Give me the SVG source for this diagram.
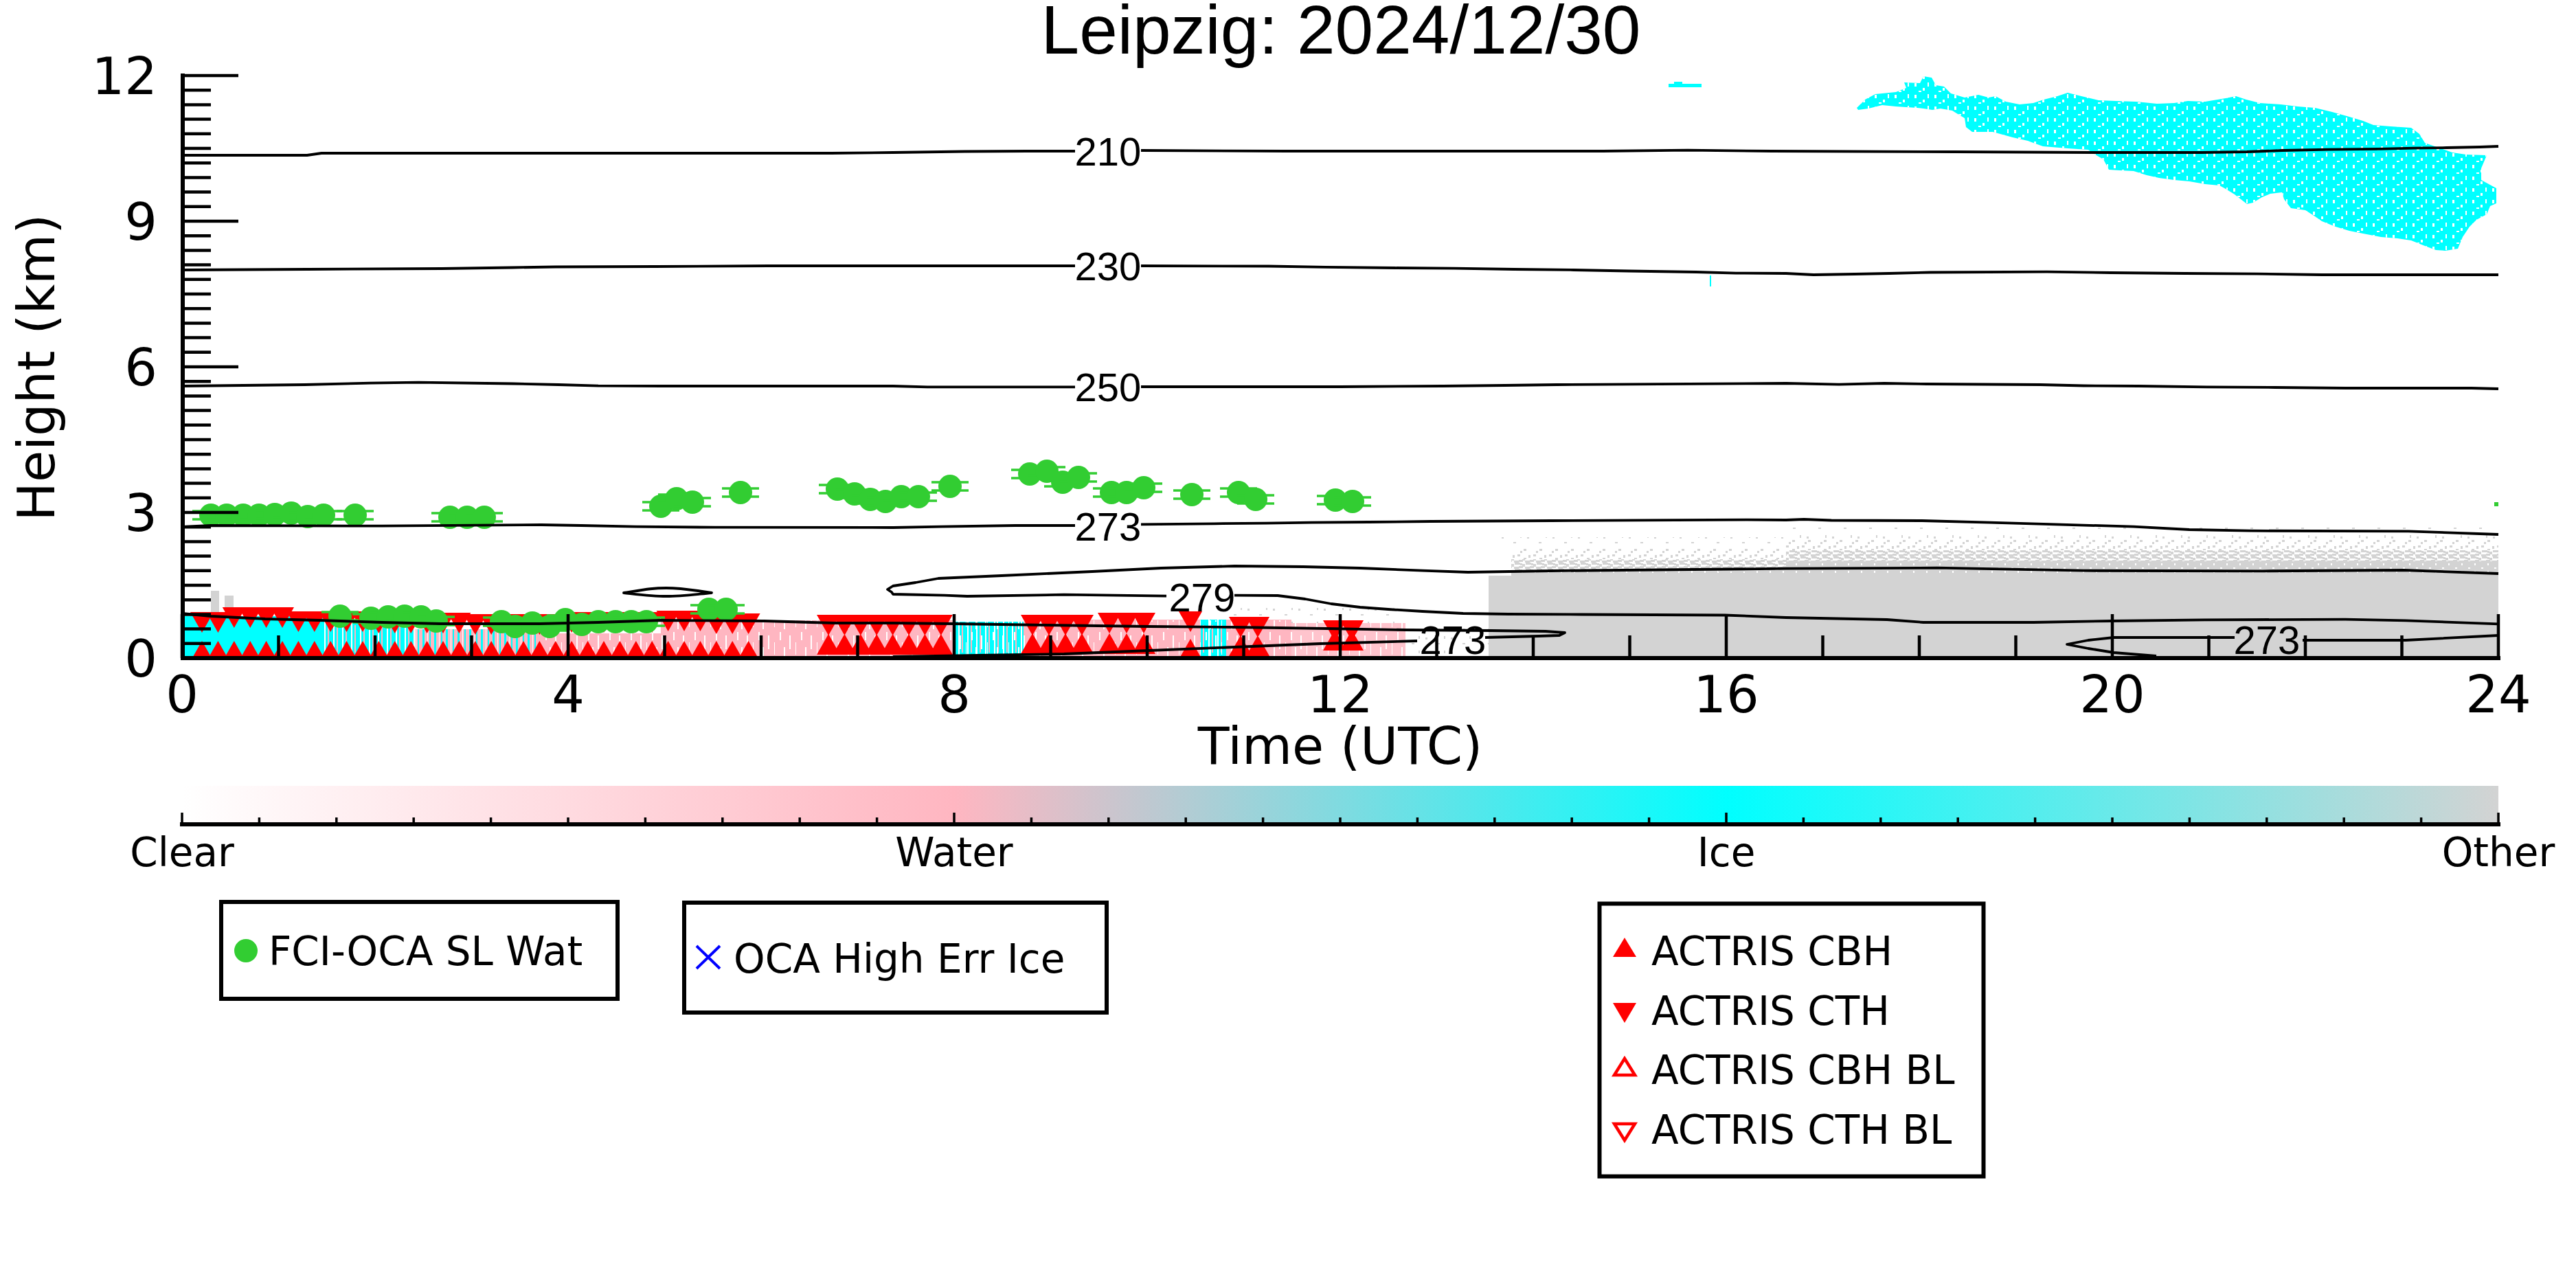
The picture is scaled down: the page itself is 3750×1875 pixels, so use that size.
<svg xmlns="http://www.w3.org/2000/svg" width="3750" height="1875" viewBox="0 0 3750 1875">
<style>
.t{font-family:"DejaVu Sans",sans-serif;fill:#000}
.tl{font-family:"Liberation Sans",Arial,sans-serif;fill:#000}
.ax{stroke:#000;stroke-width:6;fill:none}
.tk{stroke:#000;stroke-width:4.5;fill:none}
.ct{stroke:#000;stroke-width:3.8;fill:none;stroke-linejoin:round}
.lg{fill:#fff;stroke:#000;stroke-width:6}
</style>
<defs>
<clipPath id="pc"><rect x="265" y="100" width="3373" height="856"/></clipPath>
<path id="dn" d="M-17,-15H17L0,15Z" fill="#f00"/>
<path id="up" d="M0,-15L17,15H-17Z" fill="#f00"/>
<g id="gd"><path d="M-27,-6H27M-27,6H27" stroke="#32cd32" stroke-width="3.5"/><circle r="17" fill="#32cd32"/></g>
<linearGradient id="cb" x1="265" x2="3637" y1="0" y2="0" gradientUnits="userSpaceOnUse">
<stop offset="0" stop-color="#fff"/><stop offset="0.3333" stop-color="#ffb6c1"/><stop offset="0.6667" stop-color="#0ff"/><stop offset="1" stop-color="#d3d3d3"/>
</linearGradient>
<pattern id="ih" width="29" height="17" patternUnits="userSpaceOnUse"><g fill="#fff"><rect x="3" y="2" width="3" height="5"/><rect x="15" y="9" width="3" height="4"/><rect x="22" y="1" width="2" height="6"/><rect x="9" y="13" width="4" height="2"/></g></pattern>
<pattern id="sd" width="16" height="9" patternUnits="userSpaceOnUse"><g fill="#d3d3d3"><rect x="0" y="0" width="5" height="3"/><rect x="8" y="2" width="4" height="4"/><rect x="3" y="5" width="6" height="3"/><rect x="12" y="6" width="4" height="3"/><rect x="13" y="0" width="3" height="3"/><rect x="5" y="1" width="3" height="3"/><rect x="0" y="6" width="3" height="3"/></g></pattern>
<pattern id="sm" width="23" height="13" patternUnits="userSpaceOnUse"><g fill="#d3d3d3"><rect x="1" y="1" width="4" height="3"/><rect x="10" y="6" width="4" height="3"/><rect x="17" y="2" width="3" height="4"/><rect x="5" y="9" width="3" height="3"/></g></pattern>
<pattern id="ss" width="37" height="21" patternUnits="userSpaceOnUse"><g fill="#d3d3d3"><rect x="3" y="4" width="3" height="3"/><rect x="20" y="12" width="4" height="2"/><rect x="30" y="2" width="2" height="4"/></g></pattern>
<pattern id="gh" width="19" height="11" patternUnits="userSpaceOnUse"><g fill="#fff"><rect x="2" y="1" width="3" height="2"/><rect x="11" y="6" width="2" height="3"/></g></pattern>
<pattern id="pw" width="31" height="40" patternUnits="userSpaceOnUse"><g fill="#fff"><rect x="2" y="5" width="2" height="20"/><rect x="11" y="15" width="1" height="18"/><rect x="19" y="0" width="2" height="12"/><rect x="25" y="22" width="2" height="14"/></g></pattern>
<pattern id="cs" width="13" height="60" patternUnits="userSpaceOnUse"><rect width="13" height="60" fill="#0ff"/><rect x="4" y="0" width="2" height="60" fill="#fff"/><rect x="9" y="10" width="2" height="40" fill="#ffb6c1"/></pattern>
<pattern id="pcy" width="17" height="60" patternUnits="userSpaceOnUse"><rect width="17" height="60" fill="#ffb6c1"/><rect x="3" y="0" width="3" height="60" fill="#0ff"/><rect x="10" y="5" width="1" height="45" fill="#fff"/><rect x="13" y="0" width="2" height="60" fill="#0ff"/></pattern>
</defs>

<rect width="3750" height="1875" fill="#fff"/>

<g id="data" clip-path="url(#pc)">
 <rect x="265" y="897" width="205" height="60" fill="#0ff"/>
 <rect x="470" y="903" width="134" height="54" fill="url(#cs)"/>
 <rect x="604" y="916" width="176" height="41" fill="url(#pcy)"/>
 <rect x="780" y="922" width="182" height="35" fill="#ffb6c1"/>
 <rect x="962" y="903" width="428" height="54" fill="#ffb6c1"/>
 <rect x="1390" y="905" width="100" height="52" fill="url(#cs)"/>
 <rect x="1490" y="902" width="390" height="55" fill="#ffb6c1"/>
 <rect x="1748" y="902" width="37" height="55" fill="url(#cs)"/>
 <rect x="1880" y="907" width="166" height="50" fill="#ffc4cd"/>
 <rect x="780" y="903" width="1266" height="54" fill="url(#pw)"/>
 <rect x="2046" y="915" width="121" height="42" fill="url(#ss)"/>
 <rect x="1789" y="885" width="257" height="22" fill="url(#ss)"/>
 <rect x="307" y="860" width="12" height="37" fill="#d3d3d3"/>
 <rect x="327" y="867" width="13" height="30" fill="#d3d3d3"/>
 <path d="M2167,838H2200V832L2600,830V817H3637V957H2167Z" fill="#d3d3d3"/>
 <rect x="2200" y="818" width="1437" height="18" fill="url(#gh)"/>
 <rect x="2200" y="814" width="400" height="18" fill="url(#sd)"/>
 <rect x="2200" y="799" width="400" height="15" fill="url(#sm)"/>
 <rect x="2180" y="782" width="420" height="17" fill="url(#ss)"/>
 <rect x="2600" y="801" width="1037" height="16" fill="url(#sd)"/>
 <rect x="2600" y="786" width="1037" height="15" fill="url(#sm)"/>
 <rect x="2600" y="768" width="1037" height="18" fill="url(#ss)"/>
 <g id="icecloud">
 <path d="M2703,157 L2715,145 L2730,137 L2760,134 L2775,128 L2772,120 L2795,121 L2800,111 L2812,113 L2818,124 L2830,126 L2840,136 L2860,142 L2880,138 L2895,142 L2905,140 L2920,148 L2940,152 L2960,150 L2975,145 L2995,140 L3010,135 L3030,140 L3055,146 L3080,147 L3110,148 L3140,151 L3165,150 L3185,147 L3210,148 L3240,143 L3255,140 L3270,145 L3290,150 L3320,152 L3345,155 L3370,157 L3395,163 L3420,170 L3440,176 L3455,182 L3480,184 L3510,186 L3522,195 L3530,208 L3550,215 L3570,222 L3590,225 L3620,226 L3612,245 L3612,262 L3634,274 L3634,296 L3625,300 L3620,312 L3605,320 L3595,330 L3585,345 L3578,362 L3560,365 L3546,364 L3530,358 L3510,350 L3490,347 L3466,345 L3440,340 L3420,336 L3400,330 L3380,322 L3370,315 L3356,306 L3335,303 L3325,290 L3322,280 L3305,282 L3293,287 L3280,295 L3271,297 L3262,290 L3253,283 L3240,275 L3231,270 L3210,268 L3187,264 L3165,262 L3143,259 L3125,255 L3106,249 L3085,248 L3070,247 L3062,232 L3050,225 L3040,218 L3010,216 L2974,213 L2960,208 L2952,205 L2930,200 L2901,192 L2871,192 L2862,185 L2860,172 L2850,166 L2842,161 L2825,158 L2813,160 L2800,158 L2791,157 L2760,155 L2740,153 L2720,158 L2705,160Z" fill="#0ff"/>
 <path d="M2703,157 L2715,145 L2730,137 L2760,134 L2775,128 L2772,120 L2795,121 L2800,111 L2812,113 L2818,124 L2830,126 L2840,136 L2860,142 L2880,138 L2895,142 L2905,140 L2920,148 L2940,152 L2960,150 L2975,145 L2995,140 L3010,135 L3030,140 L3055,146 L3080,147 L3110,148 L3140,151 L3165,150 L3185,147 L3210,148 L3240,143 L3255,140 L3270,145 L3290,150 L3320,152 L3345,155 L3370,157 L3395,163 L3420,170 L3440,176 L3455,182 L3480,184 L3510,186 L3522,195 L3530,208 L3550,215 L3570,222 L3590,225 L3620,226 L3612,245 L3612,262 L3634,274 L3634,296 L3625,300 L3620,312 L3605,320 L3595,330 L3585,345 L3578,362 L3560,365 L3546,364 L3530,358 L3510,350 L3490,347 L3466,345 L3440,340 L3420,336 L3400,330 L3380,322 L3370,315 L3356,306 L3335,303 L3325,290 L3322,280 L3305,282 L3293,287 L3280,295 L3271,297 L3262,290 L3253,283 L3240,275 L3231,270 L3210,268 L3187,264 L3165,262 L3143,259 L3125,255 L3106,249 L3085,248 L3070,247 L3062,232 L3050,225 L3040,218 L3010,216 L2974,213 L2960,208 L2952,205 L2930,200 L2901,192 L2871,192 L2862,185 L2860,172 L2850,166 L2842,161 L2825,158 L2813,160 L2800,158 L2791,157 L2760,155 L2740,153 L2720,158 L2705,160Z" fill="url(#ih)"/>
 <rect x="2429" y="122" width="48" height="5" fill="#0ff"/>
 <rect x="2437" y="119" width="12" height="3" fill="#0ff"/>
 <rect x="2489" y="401" width="2" height="16" fill="#0ff"/>
 </g>
 <rect x="3631" y="731" width="6" height="6" fill="#32cd32"/>
</g>

<g id="actris" clip-path="url(#pc)">
 <g id="cth">
 <use href="#dn" x="294" y="906"/><use href="#dn" x="317.4" y="906"/><use href="#dn" x="340.8" y="899"/><use href="#dn" x="364.2" y="899"/><use href="#dn" x="387.6" y="899"/><use href="#dn" x="411" y="899"/><use href="#dn" x="434.4" y="905"/><use href="#dn" x="457.8" y="905"/><use href="#dn" x="481.2" y="905"/><use href="#dn" x="504.6" y="905"/><use href="#dn" x="528" y="905"/><use href="#dn" x="551.4" y="907"/><use href="#dn" x="574.8" y="907"/><use href="#dn" x="598.2" y="907"/><use href="#dn" x="621.6" y="907"/><use href="#dn" x="645" y="907"/><use href="#dn" x="668.4" y="907"/><use href="#dn" x="691.8" y="909"/><use href="#dn" x="715.2" y="909"/><use href="#dn" x="738.6" y="909"/><use href="#dn" x="762" y="909"/><use href="#dn" x="785.4" y="909"/><use href="#dn" x="808.8" y="909"/><use href="#dn" x="832.2" y="906"/><use href="#dn" x="855.6" y="906"/><use href="#dn" x="879" y="906"/><use href="#dn" x="902.4" y="906"/><use href="#dn" x="925.8" y="906"/><use href="#dn" x="949.2" y="906"/><use href="#dn" x="972.6" y="904"/><use href="#dn" x="996" y="904"/><use href="#dn" x="1019.4" y="904"/><use href="#dn" x="1042.8" y="908"/><use href="#dn" x="1066.2" y="908"/><use href="#dn" x="1089.6" y="908"/>
 <use href="#dn" x="1206" y="910"/><use href="#dn" x="1229.4" y="910"/><use href="#dn" x="1252.8" y="910"/><use href="#dn" x="1276.2" y="910"/><use href="#dn" x="1299.6" y="910"/><use href="#dn" x="1323" y="910"/><use href="#dn" x="1346.4" y="910"/><use href="#dn" x="1369.8" y="910"/>
 <use href="#dn" x="1503" y="910"/><use href="#dn" x="1527" y="910"/><use href="#dn" x="1551" y="910"/><use href="#dn" x="1575" y="910"/>
 <use href="#dn" x="1615" y="907"/><use href="#dn" x="1640" y="907"/><use href="#dn" x="1665" y="907"/>
 <use href="#dn" x="1733" y="905"/>
 <use href="#dn" x="1806" y="913"/><use href="#dn" x="1831" y="913"/>
 <use href="#dn" x="1943" y="918"/><use href="#dn" x="1968" y="918"/>
 </g>
 <g id="cbh">
 <use href="#up" x="294" y="948"/><use href="#up" x="317.4" y="948"/><use href="#up" x="340.8" y="948"/><use href="#up" x="364.2" y="948"/><use href="#up" x="387.6" y="948"/><use href="#up" x="411" y="948"/><use href="#up" x="434.4" y="948"/><use href="#up" x="457.8" y="948"/><use href="#up" x="481.2" y="948"/><use href="#up" x="504.6" y="948"/><use href="#up" x="528" y="948"/><use href="#up" x="551.4" y="948"/><use href="#up" x="574.8" y="948"/><use href="#up" x="598.2" y="948"/><use href="#up" x="621.6" y="948"/><use href="#up" x="645" y="948"/><use href="#up" x="668.4" y="948"/><use href="#up" x="691.8" y="948"/><use href="#up" x="715.2" y="948"/><use href="#up" x="738.6" y="948"/><use href="#up" x="762" y="948"/><use href="#up" x="785.4" y="948"/><use href="#up" x="808.8" y="948"/><use href="#up" x="832.2" y="948"/><use href="#up" x="855.6" y="948"/><use href="#up" x="879" y="948"/><use href="#up" x="902.4" y="948"/><use href="#up" x="925.8" y="948"/><use href="#up" x="949.2" y="948"/><use href="#up" x="972.6" y="948"/><use href="#up" x="996" y="948"/><use href="#up" x="1019.4" y="948"/><use href="#up" x="1042.8" y="948"/><use href="#up" x="1066.2" y="948"/><use href="#up" x="1089.6" y="948"/>
 <use href="#up" x="1206" y="938"/><use href="#up" x="1229.4" y="938"/><use href="#up" x="1252.8" y="938"/><use href="#up" x="1276.2" y="938"/><use href="#up" x="1299.6" y="938"/><use href="#up" x="1323" y="938"/><use href="#up" x="1346.4" y="938"/><use href="#up" x="1369.8" y="938"/>
 <use href="#up" x="1503" y="937"/><use href="#up" x="1527" y="937"/><use href="#up" x="1551" y="937"/><use href="#up" x="1575" y="937"/>
 <use href="#up" x="1615" y="937"/><use href="#up" x="1640" y="937"/><use href="#up" x="1665" y="937"/>
 <use href="#up" x="1733" y="945"/>
 <use href="#up" x="1806" y="940"/><use href="#up" x="1831" y="940"/>
 <use href="#up" x="1943" y="932"/><use href="#up" x="1968" y="932"/>
 </g>
</g>

<g id="fci-oca">
 <use href="#gd" x="307" y="750"/><use href="#gd" x="330" y="750"/><use href="#gd" x="354" y="750"/><use href="#gd" x="377" y="750"/><use href="#gd" x="400" y="749"/><use href="#gd" x="424" y="747"/><use href="#gd" x="448" y="752"/><use href="#gd" x="471" y="750"/><use href="#gd" x="517" y="750"/>
 <use href="#gd" x="655" y="753"/><use href="#gd" x="680" y="753"/><use href="#gd" x="705" y="753"/>
 <use href="#gd" x="962" y="737"/><use href="#gd" x="985" y="726"/><use href="#gd" x="1008" y="731"/>
 <use href="#gd" x="1078" y="717"/>
 <use href="#gd" x="1219" y="712"/><use href="#gd" x="1244" y="719"/><use href="#gd" x="1267" y="727"/><use href="#gd" x="1289" y="730"/>
 <use href="#gd" x="1312" y="723"/><use href="#gd" x="1337" y="723"/>
 <use href="#gd" x="1383" y="708"/>
 <use href="#gd" x="1499" y="690"/><use href="#gd" x="1524" y="686"/><use href="#gd" x="1547" y="702"/><use href="#gd" x="1570" y="695"/>
 <use href="#gd" x="1618" y="717"/><use href="#gd" x="1640" y="717"/><use href="#gd" x="1665" y="710"/>
 <use href="#gd" x="1735" y="720"/>
 <use href="#gd" x="1803" y="717"/><use href="#gd" x="1828" y="727"/>
 <use href="#gd" x="1944" y="728"/><use href="#gd" x="1969" y="730"/>
 <use href="#gd" x="495" y="897"/><use href="#gd" x="540" y="900"/><use href="#gd" x="565" y="898"/><use href="#gd" x="589" y="897"/><use href="#gd" x="613" y="898"/><use href="#gd" x="635" y="904"/>
 <use href="#gd" x="730" y="905"/><use href="#gd" x="750" y="912"/><use href="#gd" x="775" y="907"/><use href="#gd" x="800" y="912"/><use href="#gd" x="823" y="902"/><use href="#gd" x="847" y="909"/><use href="#gd" x="871" y="905"/><use href="#gd" x="896" y="905"/><use href="#gd" x="919" y="905"/><use href="#gd" x="941" y="905"/>
 <use href="#gd" x="1032" y="887"/><use href="#gd" x="1057" y="887"/>
</g>

<g id="contours">
 <path class="ct" d="M265,226 L447,226 L468,223 L1210,223 L1300,222 L1404,220.5 L1495,220 L1565,220 M1661,219 L1873,220 L2333,220 L2457,218.6 L2580,220 L2846,221 L3048,222 L3205,222 L3271,221 L3323,219 L3389,217.6 L3462,216.8 L3514,215.6 L3562,215 L3610,214 L3637,213"/>
 <path class="ct" d="M265,393 L447,392 L643,391 L746,389.5 L808,388.5 L954,388 L1119,387 L1565,387 M1661,387 L1847,387.5 L1930,388.8 L2030,390 L2117,390.6 L2204,392 L2291,393 L2370,394.5 L2469,396 L2527,397.6 L2600,398 L2640,400 L2700,399 L2750,398 L2810,396.5 L2980,395.7 L3073,397 L3180,398 L3286,398.7 L3380,400 L3637,400"/>
 <path class="ct" d="M265,562 L444,560 L539,557.7 L609,556.6 L746,558.5 L813,560 L871,561.6 L962,562 L1300,562 L1350,563.4 L1565,563.4 M1661,563 L1951,563 L2100,562 L2191,561 L2266,560 L2332,559.6 L2600,558 L2677,559.6 L2743,558 L2805,559 L2970,560 L3033,561.5 L3113,562 L3212,563.4 L3312,564 L3414,565 L3598,565 L3637,566"/>
 <path class="ct" d="M265,767 L307,765 L556,765.7 L788,764 L846,765 L925,766.7 L1041,767.7 L1300,768 L1370,766.7 L1478,765 L1565,765 M1661,763.3 L1768,762.3 L1843,761.7 L1909,760.7 L1992,760 L2083,759 L2258,758 L2544,756.7 L2600,757 L2626,756 L2666,757.5 L2798,758 L2897,760.7 L2992,763.3 L3106,766.7 L3187,771 L3275,772.7 L3506,773.3 L3637,778"/>
 <path class="ct" d="M3637,835 L3499,830 L3293,831.3 L3033,830.7 L2926,828.7 L2820,826.7 L2600,827.7 L2258,831 L2137,833 L2071,830.7 L1980,827 L1897,825 L1797,824 L1690,827 L1590,832 L1458,838 L1366,842 L1333,848 L1300,853 L1292,858 L1298,862 L1300,865 L1375,866.7 L1408,868 L1549,865.7 L1698,867.7 M1797,866.7 L1860,867 L1900,872 L1938,879 L1980,884 L2021,887 L2071,890 L2130,893 L2196,894 L2303,894.5 L2511,895.5 L2600,899 L2747,902 L2800,906 L2960,906 L3073,904 L3209,902.3 L3414,901.7 L3502,903.3 L3637,908.3"/>
 <path class="ct" d="M908,863 C940,858 950,856 970,856 C990,856 1005,858 1036,863 C1005,866 990,868 970,868 C950,868 935,866 908,863Z"/>
 <path class="ct" d="M265,893 L307,897 L386,901 L465,903 L556,906 L641,908 L786,908 L871,906 L962,903 L1113,904 L1215,907 L1300,907 L1387,908 L1524,910 L1673,912 L1797,913 L1930,915 L2046,917 L2171,918 L2250,919 L2278,921 L2270,925 L2240,926 L2162,928 M2063,933 L1922,937 L1797,942 L1673,947 L1549,952 L1424,954 L1300,956"/>
 <path class="ct" d="M3637,925 L3502,932 L3352,932 M3253,928 L3077,928 L3040,932 L3009,938 L3040,944 L3077,950 L3139,955"/>
 <g class="tl" font-size="58" text-anchor="middle">
 <text x="1613" y="241">210</text>
 <text x="1613" y="408">230</text>
 <text x="1613" y="584">250</text>
 <text x="1613" y="787">273</text>
 <text x="1750" y="890">279</text>
 <text x="2115" y="952">273</text>
 <text x="3300" y="952">273</text>
 </g>
</g>

<g id="axes">
 <path class="ax" d="M266,107V961M263,958H3640"/>
 <path class="tk" d="M266,958H347M266,746H347M266,534H347M266,322H347M266,110H347"/>
 <path class="tk" d="M266,936.8h41M266,915.6h41M266,894.4h41M266,873.2h41M266,852h41M266,830.8h41M266,809.6h41M266,788.4h41M266,767.2h41M266,724.8h41M266,703.6h41M266,682.4h41M266,661.2h41M266,640h41M266,618.8h41M266,597.6h41M266,576.4h41M266,555.2h41M266,512.8h41M266,491.6h41M266,470.4h41M266,449.2h41M266,428h41M266,406.8h41M266,385.6h41M266,364.4h41M266,343.2h41M266,300.8h41M266,279.6h41M266,258.4h41M266,237.2h41M266,216h41M266,194.8h41M266,173.6h41M266,152.4h41M266,131.2h41"/>
 <path class="tk" d="M265,958V894M827,958V894M1389,958V894M1951,958V894M2513,958V894M3075,958V894M3637,958V894"/>
 <path class="tk" d="M405.5,958V925M546,958V925M686.5,958V925M967.5,958V925M1108,958V925M1248.5,958V925M1529.5,958V925M1670,958V925M1810.5,958V925M2091.5,958V925M2232,958V925M2372.5,958V925M2653.5,958V925M2794,958V925M2934.5,958V925M3215.5,958V925M3356,958V925M3496.5,958V925"/>
 <g class="t" font-size="75" text-anchor="end">
 <text x="229" y="137">12</text>
 <text x="229" y="349">9</text>
 <text x="229" y="561">6</text>
 <text x="229" y="773">3</text>
 <text x="229" y="985">0</text>
 </g>
 <g class="t" font-size="75" text-anchor="middle">
 <text x="265" y="1037">0</text>
 <text x="827" y="1037">4</text>
 <text x="1389" y="1037">8</text>
 <text x="1951" y="1037">12</text>
 <text x="2513" y="1037">16</text>
 <text x="3075" y="1037">20</text>
 <text x="3637" y="1037">24</text>
 <text x="1951" y="1112">Time (UTC)</text>
 <text transform="translate(79,535) rotate(-90)">Height (km)</text>
 </g>
 <text class="tl" x="1952" y="78" font-size="100" text-anchor="middle">Leipzig: 2024/12/30</text>
</g>

<g id="colorbar">
 <rect x="265" y="1144" width="3372" height="56" fill="url(#cb)"/>
 <path class="ax" d="M262,1200H3640"/>
 <path stroke="#000" stroke-width="3.5" d="M265,1200V1183M1389,1200V1183M2513,1200V1183M3637,1200V1183"/>
 <path stroke="#000" stroke-width="3.5" d="M377.4,1200V1190M489.8,1200V1190M602.2,1200V1190M714.6,1200V1190M827,1200V1190M939.4,1200V1190M1051.8,1200V1190M1164.2,1200V1190M1276.6,1200V1190M1501.4,1200V1190M1613.8,1200V1190M1726.2,1200V1190M1838.6,1200V1190M1951,1200V1190M2063.4,1200V1190M2175.8,1200V1190M2288.2,1200V1190M2400.6,1200V1190M2625.4,1200V1190M2737.8,1200V1190M2850.2,1200V1190M2962.6,1200V1190M3075,1200V1190M3187.4,1200V1190M3299.8,1200V1190M3412.2,1200V1190M3524.6,1200V1190"/>
 <g class="t" font-size="58" text-anchor="middle">
 <text x="265" y="1261">Clear</text>
 <text x="1389" y="1261">Water</text>
 <text x="2513" y="1261">Ice</text>
 <text x="3637" y="1261">Other</text>
 </g>
</g>

<g id="legend-fci">
 <rect class="lg" x="322" y="1313" width="577" height="141"/>
 <circle cx="358" cy="1384" r="17" fill="#32cd32"/>
 <text class="t" x="391" y="1405" font-size="58">FCI-OCA SL Wat</text>
</g>
<g id="legend-oca">
 <rect class="lg" x="996" y="1314" width="615" height="160"/>
 <path d="M1014,1377L1048,1410M1048,1377L1014,1410" stroke="#00f" stroke-width="4"/>
 <text class="t" x="1068" y="1416" font-size="58">OCA High Err Ice</text>
</g>
<g id="legend-actris">
 <rect class="lg" x="2328.5" y="1315.5" width="559" height="397"/>
 <path d="M2365,1365L2382,1393H2348Z" fill="#f00"/>
 <path d="M2348,1460H2382L2365,1489Z" fill="#f00"/>
 <path d="M2365,1541L2380,1565H2350Z" fill="none" stroke="#f00" stroke-width="4.5"/>
 <path d="M2350,1636H2380L2365,1660Z" fill="none" stroke="#f00" stroke-width="4.5"/>
 <g class="t" font-size="58">
 <text x="2404" y="1405">ACTRIS CBH</text>
 <text x="2404" y="1492">ACTRIS CTH</text>
 <text x="2404" y="1578">ACTRIS CBH BL</text>
 <text x="2404" y="1665">ACTRIS CTH BL</text>
 </g>
</g>
</svg>
